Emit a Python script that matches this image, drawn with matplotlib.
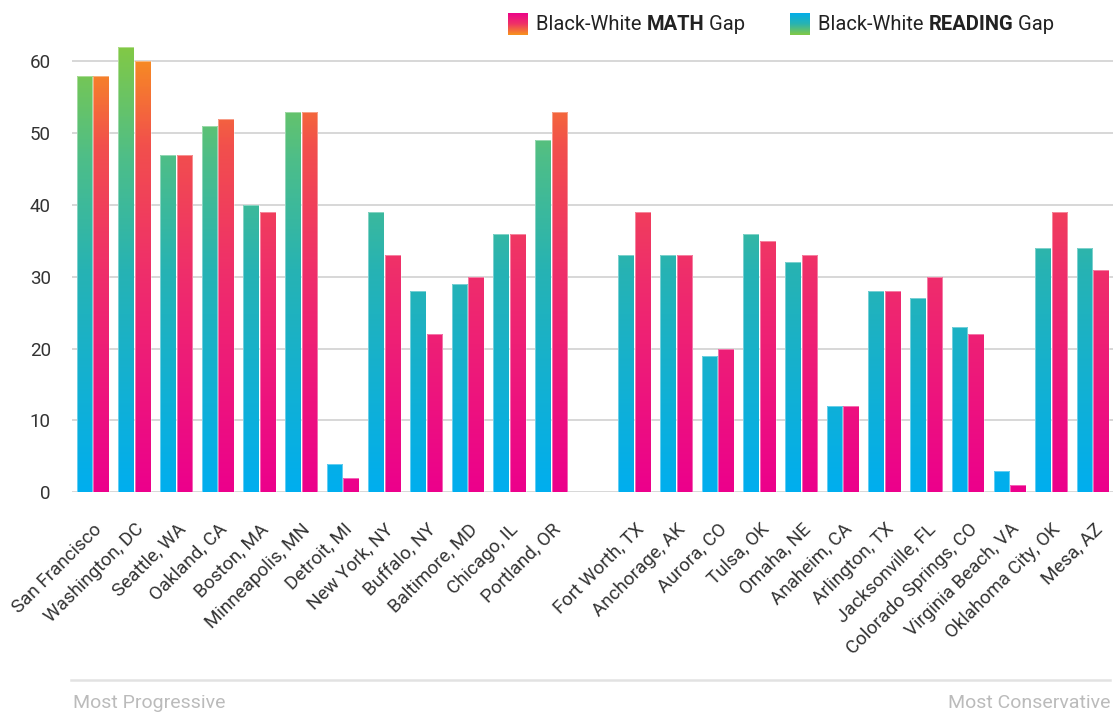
import numpy as np
import matplotlib
matplotlib.use("Agg")
import matplotlib.pyplot as plt
from matplotlib.colors import LinearSegmentedColormap

plt.rcParams['font.family'] = ['Roboto', 'DejaVu Sans']

# progressive cities (left group) and conservative cities (right group)
progressive = ["San Francisco", "Washington, DC", "Seattle, WA", "Oakland, CA",
               "Boston, MA", "Minneapolis, MN", "Detroit, MI", "New York, NY",
               "Buffalo, NY", "Baltimore, MD", "Chicago, IL", "Portland, OR"]
conservative = ["Fort Worth, TX", "Anchorage, AK", "Aurora, CO", "Tulsa, OK",
                "Omaha, NE", "Anaheim, CA", "Arlington, TX", "Jacksonville, FL",
                "Colorado Springs, CO", "Virginia Beach, VA", "Oklahoma City, OK",
                "Mesa, AZ"]

reading_prog = [58, 62, 47, 51, 40, 53, 4, 39, 28, 29, 36, 49]
math_prog = [58, 60, 47, 52, 39, 53, 2, 33, 22, 30, 36, 53]
reading_cons = [33, 33, 19, 36, 32, 12, 28, 27, 23, 3, 34, 34]
math_cons = [39, 33, 20, 35, 33, 12, 28, 30, 22, 1, 39, 31]

cities = progressive + conservative
reading = reading_prog + reading_cons
math_gap = math_prog + math_cons
# one empty slot between the groups
pos = np.concatenate([np.arange(len(progressive)),
                      np.arange(len(conservative)) + len(progressive) + 1])

read_cmap = LinearSegmentedColormap.from_list(
    "read", [(0, "#00AEEF"), (0.5, "#27B3B3"), (0.75, "#4EBE88"), (1, "#82C945")])
math_cmap = LinearSegmentedColormap.from_list(
    "math", [(0, "#EC008C"), (0.5, "#EF2F6A"), (0.78, "#F2504C"), (1, "#F7941D")])
vmax = 62

fig = plt.figure(figsize=(11.13, 7.13), dpi=100)
W, H = 1113, 713
ax = fig.add_axes([71.7 / W, 1 - 492.3 / H, (1113 - 71.7) / W, 467 / H])

bw = 0.375
gap = 0.012
xlim = (-0.506, 24.48)
ylim = (0, 65)

grad = np.linspace(0, vmax, 512).reshape(-1, 1)


def grad_bars(xs, heights, cmap):
    bars = ax.bar(xs, heights, width=bw, align="edge", facecolor="none",
                  edgecolor=(1, 1, 1, 0.4), lw=0.7, zorder=3)
    for b in bars:
        x0 = b.get_x()
        im = ax.imshow(grad, extent=[x0, x0 + bw, 0, vmax], origin="lower",
                       cmap=cmap, vmin=0, vmax=vmax, aspect="auto", zorder=2,
                       interpolation="nearest")
        im.set_clip_path(b)


grad_bars(pos - bw - gap, reading, read_cmap)
grad_bars(pos + gap, math_gap, math_cmap)

ax.set_xlim(*xlim)
ax.set_ylim(*ylim)
ax.set_yticks([0, 10, 20, 30, 40, 50, 60])
ax.yaxis.grid(True, color="#D4D4D4", lw=1.3)
ax.set_axisbelow(True)
for s in ax.spines.values():
    s.set_visible(False)
ax.tick_params(axis="y", length=0, pad=15, labelsize=13.5, labelcolor="#333333")
ax.set_xticks(pos)
ax.set_xticklabels(cities, rotation=45, ha="right", rotation_mode="anchor",
                   fontsize=13.5, color="#333333")
ax.tick_params(axis="x", length=0, pad=20)

# bottom annotation line and labels
fig.add_artist(plt.Line2D([71 / W, 1110 / W], [1 - 680 / H, 1 - 680 / H],
                          color="#E2E2E2", lw=1.8))
fig.text(73 / W, 1 - 703 / H, "Most Progressive", fontsize=14, color="#BBBBBB",
         ha="left", va="center")
fig.text(1110 / W, 1 - 703 / H, "Most Conservative", fontsize=14, color="#BBBBBB",
         ha="right", va="center")

# legend with gradient squares and partly bold text
renderer = fig.canvas.get_renderer()


def legend_item(x_sq, cmap, word):
    sq = fig.add_axes([x_sq / W, 1 - 35 / H, 20 / W, 22 / H])
    sq.imshow(np.linspace(1, 0, 100).reshape(-1, 1), cmap=cmap, aspect="auto",
              vmin=0, vmax=1)
    sq.set_axis_off()
    x = x_sq + 28
    y = 1 - 24 / H
    for txt, wt in [("Black-White ", "normal"), (word, "bold"), (" Gap", "normal")]:
        t = fig.text(x / W, y, txt, fontsize=14.5, fontweight=wt, color="#222222",
                     ha="left", va="center")
        x += t.get_window_extent(renderer).width


legend_item(508, LinearSegmentedColormap.from_list("lm", ["#F7941D", "#EF3068", "#EC008C"]), "MATH")
legend_item(790, LinearSegmentedColormap.from_list("lr", ["#82C945", "#27B3B3", "#00AEEF"]), "READING")

fig.savefig("out.png", dpi=100)
